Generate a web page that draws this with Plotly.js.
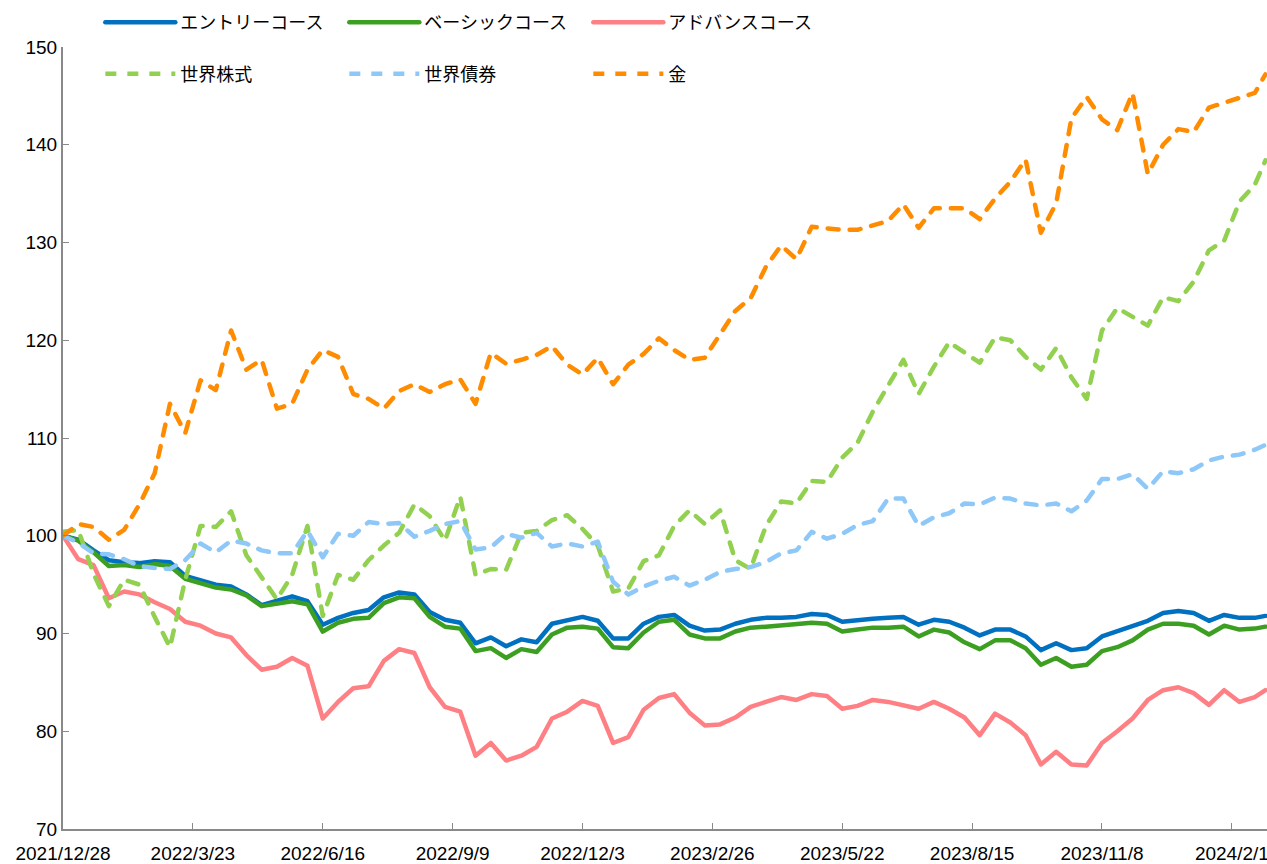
<!DOCTYPE html>
<html><head><meta charset="utf-8">
<script src="https://cdn.plot.ly/plotly-3.0.1.min.js"></script>
<style>
html,body{margin:0;padding:0;background:#fff;overflow:hidden;}
#chart{width:1267px;height:864px;}
.scatterlayer .js-line{stroke-linecap:round;stroke-linejoin:round;}
.legend .js-line{stroke-linecap:round;}
</style></head><body><div id="chart"></div>
<script>
const dates = ["2021-12-28","2022-01-07","2022-01-17","2022-01-27","2022-02-06","2022-02-16","2022-02-26","2022-03-08","2022-03-18","2022-03-28",
"2022-04-07","2022-04-17","2022-04-27","2022-05-07","2022-05-17","2022-05-27","2022-06-06","2022-06-16","2022-06-26","2022-07-06",
"2022-07-16","2022-07-26","2022-08-05","2022-08-15","2022-08-25","2022-09-04","2022-09-14","2022-09-24","2022-10-04","2022-10-14",
"2022-10-24","2022-11-03","2022-11-13","2022-11-23","2022-12-03","2022-12-13","2022-12-23","2023-01-02","2023-01-12","2023-01-22",
"2023-02-01","2023-02-11","2023-02-21","2023-03-03","2023-03-13","2023-03-23","2023-04-02","2023-04-12","2023-04-22","2023-05-02",
"2023-05-12","2023-05-22","2023-06-01","2023-06-11","2023-06-21","2023-07-01","2023-07-11","2023-07-21","2023-07-31","2023-08-10",
"2023-08-20","2023-08-30","2023-09-09","2023-09-19","2023-09-29","2023-10-09","2023-10-19","2023-10-29","2023-11-08","2023-11-18",
"2023-11-28","2023-12-08","2023-12-18","2023-12-28","2024-01-07","2024-01-17","2024-01-27","2024-02-06","2024-02-16","2024-02-23"];

const entryCourse = [100,99.6,98.5,97.5,97.3,97.2,97.4,97.3,95.9,95.4,
95.0,94.8,94.0,92.9,93.4,93.8,93.3,90.9,91.6,92.1,
92.4,93.7,94.2,94.0,92.2,91.4,91.1,89.0,89.6,88.7,
89.4,89.1,91.0,91.4,91.7,91.3,89.5,89.5,91.0,91.7,
91.9,90.8,90.3,90.4,91.0,91.4,91.6,91.6,91.7,92.0,
91.9,91.2,91.4,91.5,91.6,91.7,90.9,91.4,91.2,90.6,
89.8,90.4,90.4,89.7,88.3,89.0,88.3,88.5,89.7,90.2,
90.7,91.3,92.1,92.3,92.1,91.3,91.9,91.6,91.6,91.8];

const basicCourse = [100,99.5,98.3,96.9,97.0,96.8,97.1,96.9,95.6,95.2,
94.7,94.5,93.9,92.8,93.1,93.3,93.0,90.2,91.1,91.5,
91.6,93.1,93.7,93.6,91.7,90.7,90.5,88.2,88.5,87.5,
88.4,88.1,89.9,90.6,90.7,90.5,88.6,88.5,90.1,91.2,
91.4,89.9,89.5,89.5,90.2,90.6,90.7,90.8,90.9,91.1,
91.0,90.2,90.4,90.6,90.6,90.7,89.7,90.4,90.1,89.1,
88.4,89.3,89.3,88.5,86.8,87.5,86.6,86.8,88.2,88.6,
89.3,90.4,91.0,91.0,90.8,89.9,90.8,90.4,90.5,90.7];

const advanceCourse = [100,97.6,97.0,93.6,94.3,94.0,93.2,92.5,91.2,90.8,
90.0,89.6,87.8,86.3,86.6,87.5,86.7,81.3,83.0,84.4,
84.6,87.2,88.4,88.0,84.5,82.5,82.0,77.5,78.8,77.0,
77.5,78.4,81.3,82.0,83.1,82.6,78.8,79.4,82.2,83.4,
83.8,81.9,80.6,80.7,81.4,82.5,83.0,83.5,83.2,83.8,
83.6,82.3,82.6,83.2,83.0,82.6,82.3,83.0,82.3,81.4,
79.6,81.8,80.9,79.6,76.6,77.9,76.6,76.5,78.8,80.0,
81.3,83.2,84.2,84.5,83.9,82.7,84.2,83.0,83.5,84.2];

const worldStocks = [100.4,100.6,96.1,92.8,95.5,95.0,91.7,88.6,95.5,101.0,
100.9,102.5,98.0,95.7,93.5,96.0,101.0,91.8,96.0,95.5,
97.5,99.0,100.3,103.2,102.0,99.5,104.0,96.0,96.6,96.5,
100.3,100.5,101.6,102.1,100.7,99.0,94.3,94.6,97.4,98.0,
101.0,102.6,101.2,102.6,97.5,96.6,101.0,103.5,103.3,105.6,
105.5,108.0,109.5,112.7,115.3,118.0,114.5,117.3,119.8,118.8,
117.7,120.3,120.0,118.3,117.0,119.2,116.2,114.0,121.0,123.3,
122.4,121.5,124.4,124.0,126.0,129.2,130.2,134.2,135.9,138.4];

const worldBonds = [100,99.3,98.2,98.1,97.6,96.9,96.7,96.6,97.5,99.2,
98.3,99.5,99.2,98.5,98.2,98.2,100.5,97.8,100.2,100.0,
101.4,101.2,101.3,99.9,100.5,101.2,101.5,98.6,98.8,100.2,
99.8,100.3,98.9,99.2,98.9,99.4,95.3,94.0,94.8,95.4,
95.8,94.9,95.5,96.3,96.6,96.8,97.3,98.2,98.5,100.4,
99.7,100.2,101.1,101.5,103.8,103.8,101.0,101.9,102.3,103.3,
103.2,103.9,103.8,103.3,103.1,103.3,102.5,103.6,105.8,105.8,
106.3,104.8,106.6,106.4,106.8,107.7,108.1,108.3,108.8,109.3];

const gold = [100,101.2,100.9,99.6,100.6,103.2,106.4,113.5,110.5,115.9,
114.9,121.0,117.0,118.0,113.0,113.5,117.0,119.0,118.3,114.5,
114.0,113.0,114.8,115.5,114.7,115.5,116.0,113.5,118.7,117.6,
118.0,118.5,119.4,117.5,116.5,118.2,115.5,117.5,118.6,120.2,
119.0,118.0,118.2,120.7,123.0,124.3,127.5,129.7,128.3,131.6,
131.4,131.3,131.3,131.8,132.2,133.9,131.5,133.5,133.5,133.5,
132.4,134.5,136.2,138.5,131.0,134.0,142.7,144.9,142.6,141.5,
145.3,137.0,140.0,141.6,141.3,143.8,144.3,144.8,145.3,147.2];

const seriesNames = ["エントリーコース","ベーシックコース","アドバンスコース","世界株式","世界債券","金"];
const seriesData = [entryCourse, basicCourse, advanceCourse, worldStocks, worldBonds, gold];
const seriesColors = ["#0070C0","#3C9F22","#FF8084","#92D050","#8DC8F8","#FF8C00"];
const seriesDash = ["solid","solid","solid","11px,11px","11px,11px","11px,11px"];
const seriesLegend = ["legend","legend","legend","legend2","legend2","legend2"];

const traces = seriesNames.map((n,i)=>({
  type:"scatter", mode:"lines", name:n, x:dates, y:seriesData[i],
  line:{color:seriesColors[i], width:4.5, dash:seriesDash[i]},
  legend:seriesLegend[i], hoverinfo:"skip"
}));

const tickFont = {family:"Liberation Sans, Arial, sans-serif", size:19, color:"#000"};
const legFont = {family:"Noto Sans CJK JP, sans-serif", size:18, color:"#000"};

const layout = {
  width:1267, height:864,
  margin:{l:63, r:0, t:47, b:35},
  paper_bgcolor:"#fff", plot_bgcolor:"#fff",
  showlegend:true,
  xaxis:{
    type:"date", range:["2021-12-28","2024-02-24"],
    tickmode:"linear", tick0:"2021-12-28", dtick:85*86400000,
    tickformat:"%Y/%-m/%-d", ticks:"inside", ticklen:6, tickcolor:"#898989", tickwidth:1,
    showline:true, linecolor:"#898989", linewidth:2, showgrid:false, zeroline:false,
    tickfont:tickFont, automargin:false, ticklabeloverflow:"allow", ticklabelstandoff:6
  },
  yaxis:{
    range:[70,150], tickmode:"linear", tick0:70, dtick:10,
    ticks:"inside", ticklen:6, tickcolor:"#898989", tickwidth:1,
    showline:true, linecolor:"#898989", linewidth:2, showgrid:false, zeroline:false,
    tickfont:tickFont, automargin:false
  },
  legend:{orientation:"h", x:0.031, xanchor:"left", y:1.055, yanchor:"top",
    font:legFont, bgcolor:"rgba(0,0,0,0)", itemwidth:70, entrywidth:159, entrywidthmode:"pixels", traceorder:"normal"},
  legend2:{orientation:"h", x:0.031, xanchor:"left", y:0.989, yanchor:"top",
    font:legFont, bgcolor:"rgba(0,0,0,0)", itemwidth:70, entrywidth:159, entrywidthmode:"pixels", traceorder:"normal"}
};

Plotly.newPlot("chart", traces, layout, {displayModeBar:false, staticPlot:true});
</script></body></html>
